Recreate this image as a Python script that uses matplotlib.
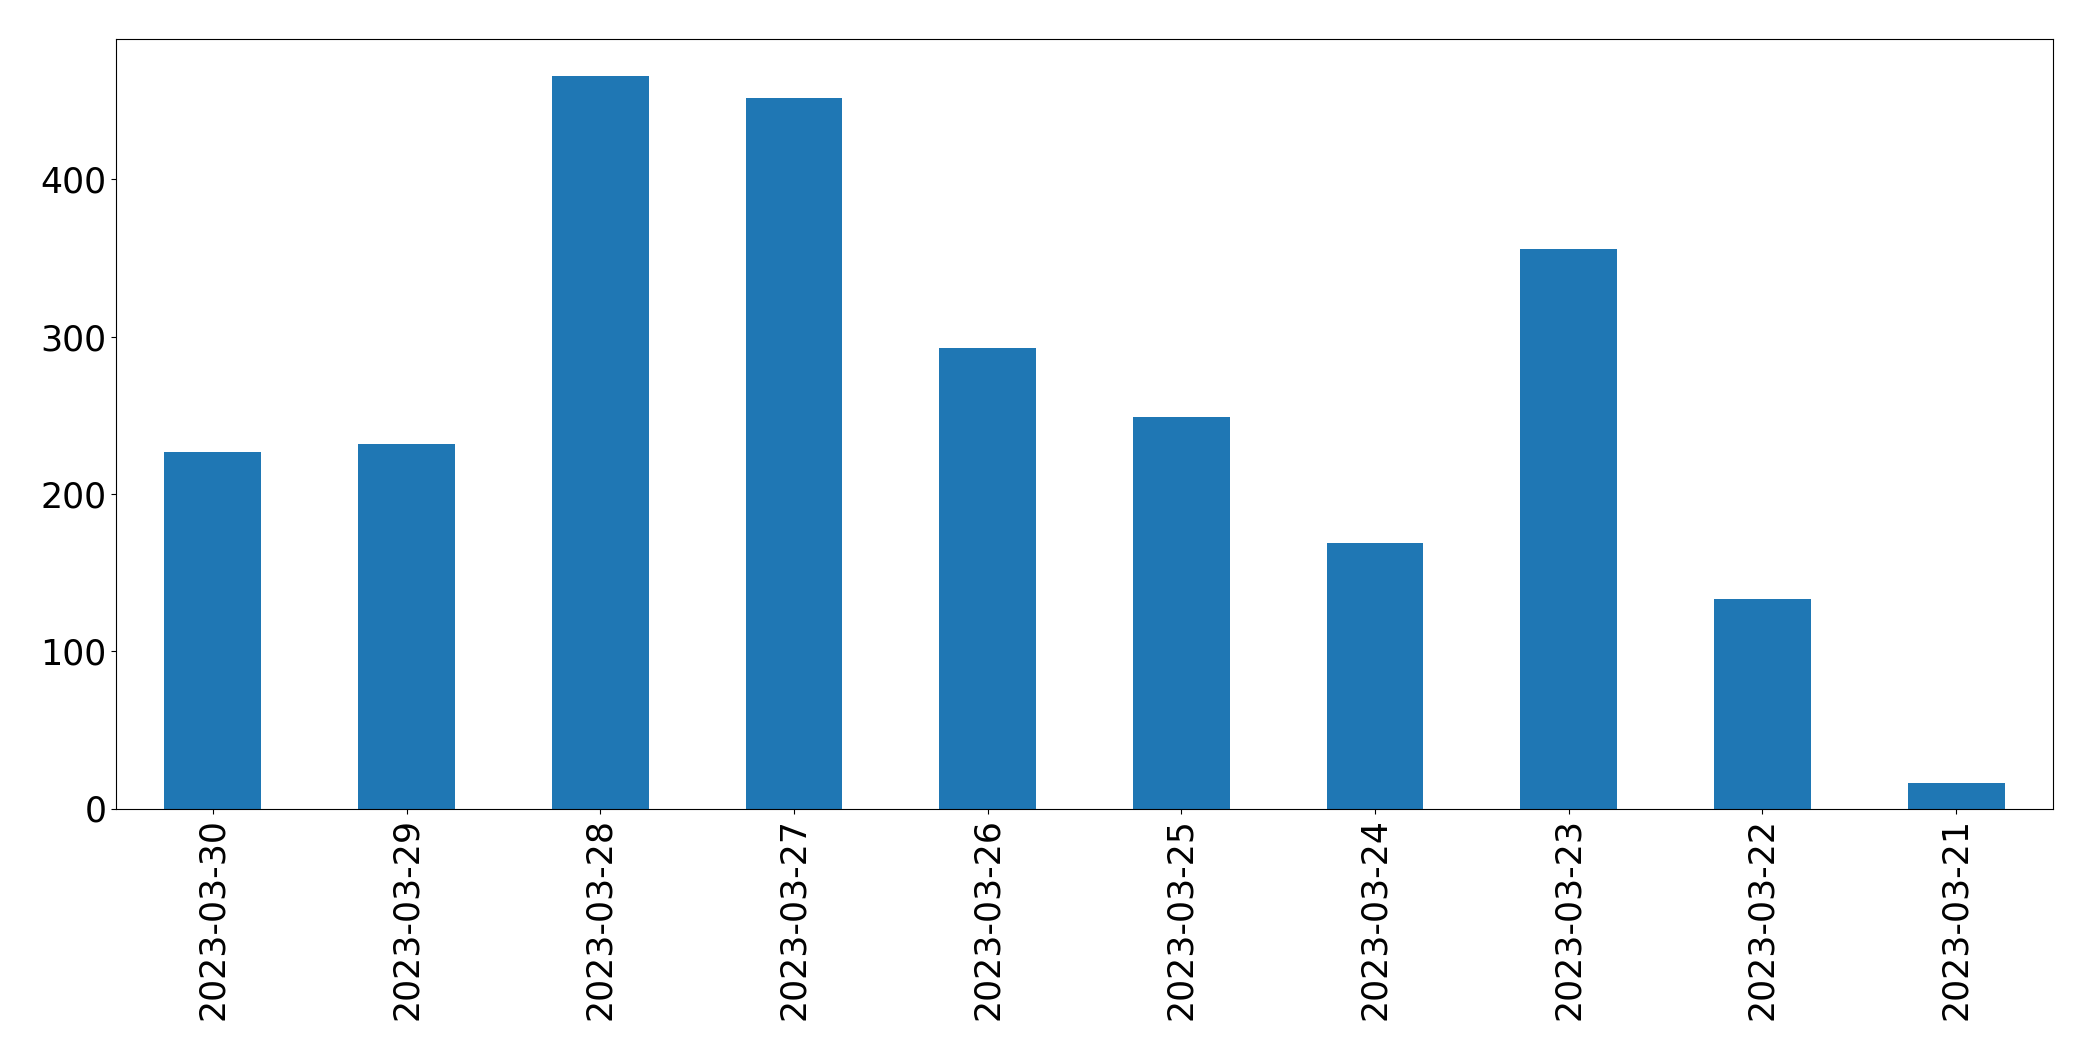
import matplotlib
matplotlib.use("Agg")
import matplotlib.pyplot as plt
import numpy as np

dates = ["2023-03-30", "2023-03-29", "2023-03-28", "2023-03-27", "2023-03-26",
         "2023-03-25", "2023-03-24", "2023-03-23", "2023-03-22", "2023-03-21"]
counts = [227, 232, 466, 452, 293, 249, 169, 356, 133, 16]

fig = plt.figure(figsize=(20.93, 10.61), dpi=100)
ax = fig.add_axes([116/2093, 1 - 808.5/1061, (2053-116)/2093, (808.5-39)/1061])
x = np.arange(len(dates))
ax.bar(x, counts, width=0.5, color="#1f77b4")
ax.set_xlim(-0.5, len(dates) - 0.5)
ax.set_ylim(0, max(counts) * 1.05)
ax.set_xticks(x)
ax.set_xticklabels(dates, rotation=90)
ax.set_yticks([0, 100, 200, 300, 400])
ax.tick_params(axis="both", labelsize=25)
fig.savefig("out.png", dpi=100)
